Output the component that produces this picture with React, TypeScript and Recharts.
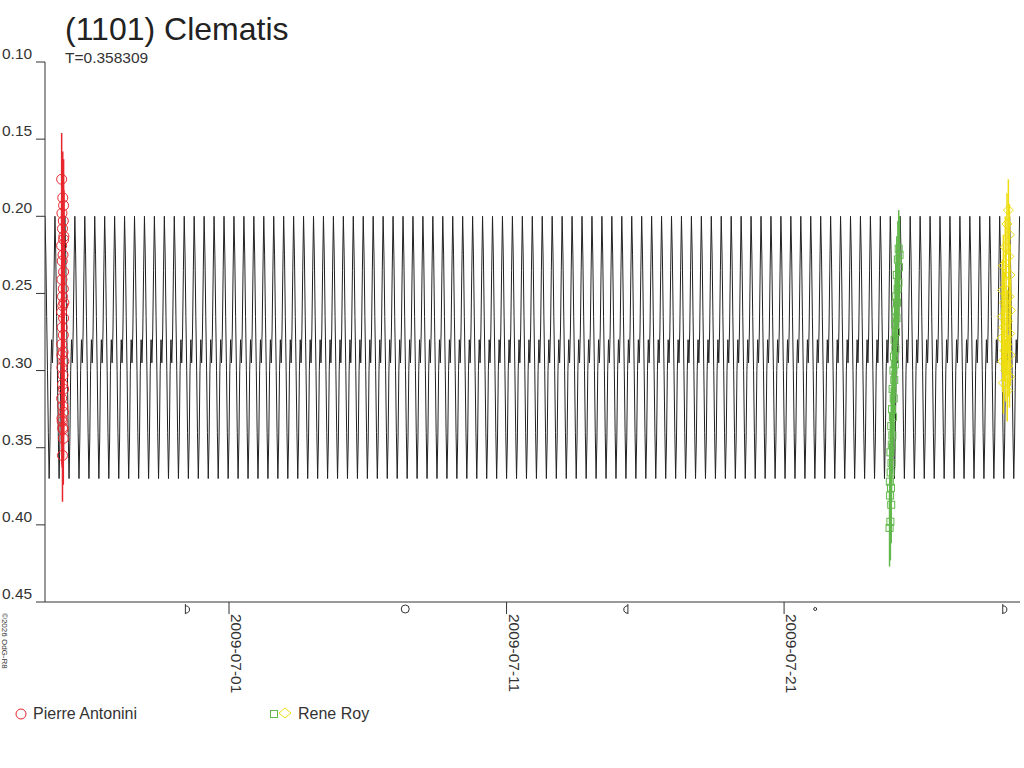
import { ComposedChart, Line, Scatter, ErrorBar, XAxis, YAxis } from 'recharts';

// days counted from 2009-07-01 00:00
const PERIOD = 0.358309;
const X_DOMAIN: [number, number] = [-6.63, 28.5];
const yTicks = [0.1, 0.15, 0.2, 0.25, 0.3, 0.35, 0.4, 0.45];
const dateTicks = [0, 10, 20];
const dateLabels = ['2009-07-01', '2009-07-11', '2009-07-21'];
const moonDays = [-1.5, 6.35, 14.3, 21.12, 27.95];
const moonKinds = ['fq', 'full', 'lq', 'new', 'fq'];

// one rotation of the model light curve
const cycleShape = [0.2, 0.225, 0.265, 0.3, 0.34, 0.37, 0.345, 0.3, 0.28, 0.295, 0.275, 0.235];

const antoniniT = [
  -6.03, -5.99, -5.96, -6.02, -5.97, -6.0, -5.95, -6.03, -5.98, -6.01, -5.96, -6.02, -5.97, -6.0,
  -5.95, -6.03, -5.99, -5.96, -6.01, -5.97, -6.03, -5.98, -5.95, -6.02, -5.98, -6.0, -5.96, -6.03,
  -5.99, -5.96, -6.01, -5.98, -6.02, -5.97, -5.99, -6.0, -5.96, -6.02,
];
const antoniniMag = [
  0.176, 0.188, 0.193, 0.198, 0.203, 0.208, 0.213, 0.219, 0.225, 0.229, 0.236, 0.241, 0.247, 0.252,
  0.256, 0.262, 0.258, 0.266, 0.272, 0.277, 0.283, 0.288, 0.294, 0.298, 0.303, 0.309, 0.312, 0.318,
  0.323, 0.327, 0.333, 0.338, 0.331, 0.344, 0.337, 0.355, 0.215, 0.29,
];
const antoniniErr = 0.03;

const royGreenT = [
  23.8, 23.83, 23.86, 23.82, 23.85, 23.81, 23.84, 23.87, 23.83, 23.88, 23.9, 23.86, 23.92, 23.89,
  23.95, 23.91, 23.97, 23.94, 23.99, 23.96, 24.01, 23.98, 24.03, 24.0, 24.05, 24.02, 24.07, 24.04,
  24.09, 24.12, 24.06, 24.14, 24.1, 24.16, 24.13,
];
const royGreenMag = [
  0.402, 0.398, 0.387, 0.381, 0.376, 0.372, 0.366, 0.36, 0.353, 0.348, 0.342, 0.336, 0.33, 0.325,
  0.318, 0.312, 0.306, 0.3, 0.296, 0.291, 0.286, 0.28, 0.275, 0.27, 0.266, 0.261, 0.256, 0.252,
  0.247, 0.243, 0.238, 0.233, 0.228, 0.225, 0.221,
];
const royGreenErr = 0.025;

const royYellowT = [
  28.08, 28.03, 28.12, 27.97, 28.1, 27.9, 28.14, 28.0, 27.87, 28.11, 27.94, 28.16, 27.86, 28.05,
  27.92, 28.13, 27.85, 28.02, 27.95, 28.15, 27.88, 28.07, 27.98, 28.12, 27.9, 28.04,
];
const royYellowMag = [
  0.196, 0.205, 0.212, 0.22, 0.226, 0.232, 0.238, 0.243, 0.248, 0.252, 0.256, 0.261, 0.265, 0.268,
  0.272, 0.276, 0.279, 0.283, 0.287, 0.29, 0.294, 0.297, 0.3, 0.304, 0.308, 0.313,
];
const royYellowErr = 0.02;

const RED = '#e8262e';
const GREEN = '#62b84c';
const YELLOW = '#eedd11';
const INK = '#333';

const modelData: { t: number; m: number }[] = [];
for (let c = 0; X_DOMAIN[0] + c * PERIOD < X_DOMAIN[1]; c++) {
  cycleShape.forEach((m, i) => {
    const t = X_DOMAIN[0] + (c + i / cycleShape.length) * PERIOD;
    if (t <= X_DOMAIN[1]) modelData.push({ t, m });
  });
}

const toPoints = (ts: number[], ms: number[], err: number) =>
  ts.map((t, i) => ({ t, m: ms[i], err }));

const antonini = toPoints(antoniniT, antoniniMag, antoniniErr);
const royGreen = toPoints(royGreenT, royGreenMag, royGreenErr);
const royYellow = toPoints(royYellowT, royYellowMag, royYellowErr);

const font = '"Liberation Sans", Arial, sans-serif';

function YTick({ y, payload }: any) {
  return (
    <text x={2} y={y - 3} fontSize={15.5} fill={INK} fontFamily={font}>
      {Number(payload.value).toFixed(2)}
    </text>
  );
}

function XTick({ x, y, payload }: any) {
  const v = payload.value;
  const di = dateTicks.indexOf(v);
  if (di >= 0) {
    return (
      <g>
        <line x1={x} y1={y} x2={x} y2={y + 12} stroke={INK} />
        <text
          transform={`translate(${x + 2},${y + 12}) rotate(90)`}
          fontSize={15.5}
          fill={INK}
          fontFamily={font}
        >
          {dateLabels[di]}
        </text>
      </g>
    );
  }
  const kind = moonKinds[moonDays.indexOf(v)];
  const cy = y + 7;
  if (kind === 'full') return <circle cx={x} cy={cy} r={4} fill="none" stroke={INK} />;
  if (kind === 'new') return <circle cx={x} cy={cy} r={1.5} fill="none" stroke={INK} />;
  const s = kind === 'fq' ? 1 : -1;
  const sx = x - 2 * s;
  return (
    <path
      d={`M${sx} ${cy - 5} L${sx} ${cy + 5} M${sx} ${cy - 3} L${sx + 2 * s} ${cy - 3} L${sx + 4 * s} ${cy - 1} L${sx + 4 * s} ${cy + 2} L${sx + 2 * s} ${cy + 4} L${sx} ${cy + 4}`}
      fill="none"
      stroke={INK}
    />
  );
}

const circleShape = (p: any) => <circle cx={p.cx} cy={p.cy} r={5} fill="none" stroke={RED} />;
const squareShape = (p: any) => (
  <rect x={p.cx - 3.5} y={p.cy - 3.5} width={7} height={7} fill="none" stroke={GREEN} />
);
const diamondShape = (p: any) => (
  <path
    d={`M${p.cx} ${p.cy - 5} L${p.cx + 5} ${p.cy} L${p.cx} ${p.cy + 5} L${p.cx - 5} ${p.cy} Z`}
    fill="none"
    stroke={YELLOW}
  />
);

export default function App() {
  return (
    <div style={{ position: 'absolute', left: 0, top: 0, width: 1024, height: 768, background: '#fff' }}>
      <ComposedChart width={1024} height={768} margin={{ top: 62, right: 4, bottom: 0, left: 0 }}>
        <XAxis
          dataKey="t"
          type="number"
          domain={X_DOMAIN}
          allowDataOverflow
          ticks={[...dateTicks, ...moonDays]}
          interval={0}
          tickLine={false}
          tickSize={0}
          tickMargin={0}
          height={166}
          axisLine={{ stroke: INK }}
          tick={<XTick />}
        />
        <YAxis
          dataKey="m"
          type="number"
          domain={[0.1, 0.45]}
          reversed
          allowDataOverflow
          ticks={yTicks}
          interval={0}
          width={45}
          tickSize={9}
          tickLine={{ stroke: INK }}
          axisLine={{ stroke: INK }}
          tick={<YTick />}
        />
        <Line
          data={modelData}
          dataKey="m"
          type="linear"
          stroke="#222"
          strokeWidth={1}
          dot={false}
          activeDot={false}
          isAnimationActive={false}
        />
        <Scatter data={antonini} shape={circleShape} isAnimationActive={false}>
          <ErrorBar dataKey="err" direction="y" width={0} stroke={RED} isAnimationActive={false} />
        </Scatter>
        <Scatter data={royGreen} shape={squareShape} isAnimationActive={false}>
          <ErrorBar dataKey="err" direction="y" width={0} stroke={GREEN} isAnimationActive={false} />
        </Scatter>
        <Scatter data={royYellow} shape={diamondShape} isAnimationActive={false}>
          <ErrorBar dataKey="err" direction="y" width={0} stroke={YELLOW} isAnimationActive={false} />
        </Scatter>
      </ComposedChart>
      <svg
        width={1024}
        height={768}
        style={{ position: 'absolute', left: 0, top: 0, pointerEvents: 'none' }}
        fontFamily={font}
      >
        <text x={65} y={40} fontSize={32} fill="#222">
          (1101) Clematis
        </text>
        <text x={65} y={63} fontSize={15.5} fill={INK}>
          T=0.358309
        </text>
        <text transform="translate(2,613) rotate(90)" fontSize={8} fill={INK}>
          ©2026 OdG-R8
        </text>
        <circle cx={21} cy={714} r={5} fill="none" stroke={RED} />
        <text x={33} y={719} fontSize={16} fill={INK}>
          Pierre Antonini
        </text>
        <rect x={270.5} y={710.5} width={7} height={7} fill="none" stroke={GREEN} />
        <path d="M285 708 L291 713 L285 718 L279 713 Z" fill="none" stroke={YELLOW} />
        <text x={298} y={719} fontSize={16} fill={INK}>
          Rene Roy
        </text>
      </svg>
    </div>
  );
}
